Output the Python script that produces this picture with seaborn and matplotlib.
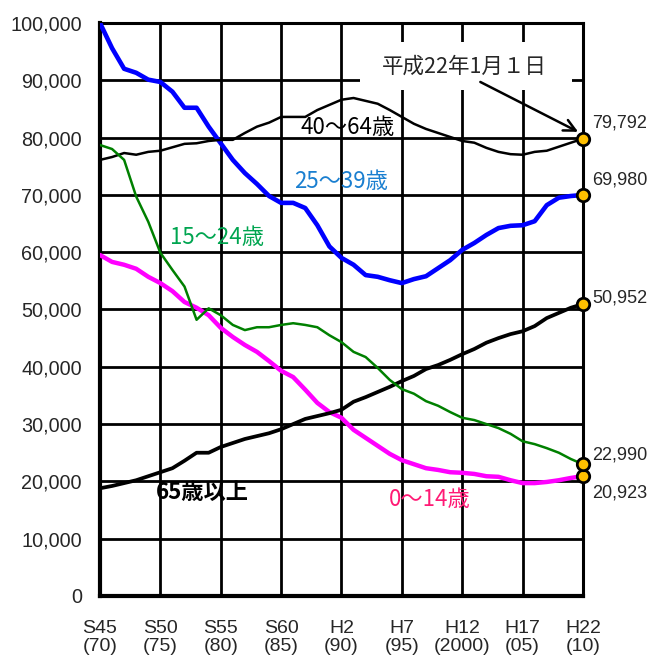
import matplotlib
matplotlib.use("Agg")
import matplotlib.pyplot as plt
from matplotlib.patches import Rectangle
import pandas as pd
import seaborn as sns

# ---- data (population by age group, each year 1970-2010) ----
years = list(range(1970, 2011))

age_0_14 = [59500, 58300, 57800, 57100, 55700, 54600, 53200, 51300, 50300, 49000,
            46800, 45200, 43800, 42600, 41000, 39300, 38200, 36000, 33700, 32100,
            31100, 29000, 27600, 26200, 24800, 23700, 23000, 22300, 22000, 21600,
            21500, 21300, 20900, 20800, 20200, 19700, 19700, 19900, 20200, 20600,
            20923]
age_15_24 = [78700, 78000, 76100, 69700, 65300, 59900, 56900, 54000, 48200, 50200,
             49000, 47300, 46400, 46900, 46900, 47300, 47600, 47300, 46900, 45500,
             44300, 42600, 41700, 39800, 37700, 36100, 35300, 34000, 33200, 32100,
             31100, 30700, 30000, 29300, 28300, 27000, 26500, 25800, 25000, 23900,
             22990]
age_25_39 = [100000, 95600, 92000, 91300, 90100, 89700, 88000, 85200, 85200, 81900,
             79000, 76100, 73800, 71900, 69800, 68600, 68600, 67700, 64700, 61000,
             59000, 57800, 56000, 55700, 55100, 54600, 55300, 55800, 57200, 58600,
             60400, 61600, 63000, 64200, 64600, 64700, 65400, 68200, 69500, 69800,
             69980]
age_40_64 = [76100, 76600, 77300, 77000, 77500, 77700, 78300, 78900, 79000, 79400,
             79600, 79600, 80800, 81900, 82600, 83600, 83600, 83600, 84800, 85700,
             86600, 86900, 86400, 85900, 84800, 83600, 82400, 81500, 80800, 80100,
             79400, 79100, 78200, 77500, 77100, 77000, 77500, 77700, 78400, 79100,
             79792]
age_65_over = [18800, 19200, 19700, 20200, 20900, 21600, 22300, 23600, 25000, 25000,
               26000, 26700, 27400, 27900, 28400, 29100, 30000, 30900, 31400, 31900,
               32500, 33900, 34700, 35600, 36500, 37500, 38400, 39600, 40300, 41200,
               42200, 43100, 44200, 45000, 45700, 46200, 47100, 48500, 49400, 50300,
               50952]

x_ticks = [1970, 1975, 1980, 1985, 1990, 1995, 2000, 2005, 2010]
x_tick_labels = ["S45\n(70)", "S50\n(75)", "S55\n(80)", "S60\n(85)", "H2\n(90)",
                 "H7\n(95)", "H12\n(2000)", "H17\n(05)", "H22\n(10)"]
y_ticks = list(range(0, 100001, 10000))

series_names = ["0～14歳", "15～24歳", "25～39歳", "40～64歳", "65歳以上"]
series_values = [age_0_14, age_15_24, age_25_39, age_40_64, age_65_over]

df = pd.DataFrame({
    "year": years * len(series_names),
    "group": [n for n in series_names for _ in years],
    "population": [v for vals in series_values for v in vals],
})

# ---- styling ----
sns.set_theme(style="white")
plt.rcParams["font.family"] = ["Liberation Sans", "Noto Sans CJK JP", "DejaVu Sans"]
jp = ["Noto Sans CJK JP", "DejaVu Sans"]

line_style = {
    "0～14歳":  dict(color="#FF00FF", lw=3.2, z=3),
    "15～24歳": dict(color="#008000", lw=1.8, z=4),
    "25～39歳": dict(color="#0000FF", lw=3.3, z=3),
    "40～64歳": dict(color="#000000", lw=1.8, z=3),
    "65歳以上": dict(color="#000000", lw=2.7, z=3),
}

fig = plt.figure(figsize=(6.5, 6.59), dpi=100)
ax = fig.add_axes([0.1538, 0.0956, 0.7431, 0.8696])

for name in series_names:
    st = line_style[name]
    sns.lineplot(data=df[df["group"] == name], x="year", y="population",
                 color=st["color"], linewidth=st["lw"], ax=ax, zorder=st["z"],
                 legend=False)

ax.set_xlim(1970, 2010)
ax.set_ylim(0, 100000)
ax.set_xticks(x_ticks)
ax.set_xticklabels(x_tick_labels, fontsize=14, linespacing=1.12)
ax.set_yticks(y_ticks)
ax.set_yticklabels([f"{v:,}" for v in y_ticks], fontsize=14.3)
ax.tick_params(axis="x", length=0, pad=17)
ax.tick_params(axis="y", length=0, pad=13)
ax.set_xlabel("")
ax.set_ylabel("")

ax.grid(True, color="black", linewidth=2.0)
ax.set_axisbelow(True)
for side, sp in ax.spines.items():
    sp.set_color("black")
    sp.set_linewidth(3.0 if side in ("left", "bottom") else 2.2)

# series labels
label_specs = [
    ("40～64歳", 1990.5, 81700, "#000000", "normal"),
    ("25～39歳", 1990.0, 72300, "#1A7FD0", "normal"),
    ("15～24歳", 1979.7, 62500, "#00A550", "normal"),
    ("65歳以上", 1978.5, 18100, "#000000", "bold"),
    ("0～14歳", 1997.3, 16800, "#FF1A75", "normal"),
]
for text, x, y, c, w in label_specs:
    ax.text(x, y, text, color=c, fontsize=16, fontweight=w, family=jp,
            ha="center", va="center", zorder=6)

# end-of-period markers and values
last_vals = [vals[-1] for vals in series_values]
sns.scatterplot(x=[years[-1]] * len(last_vals), y=last_vals, s=80,
                color="#FFC000", edgecolor="black", linewidth=2.0,
                ax=ax, zorder=7, clip_on=False, legend=False)
value_offsets = {"40～64歳": 11.5, "25～39歳": 11, "65歳以上": 4,
                 "15～24歳": 6.5, "0～14歳": -12}
for name, v in zip(series_names, last_vals):
    ax.annotate(f"{v:,}", xy=(years[-1], v), xytext=(6.5, value_offsets[name]),
                textcoords="offset points", ha="left", va="center",
                fontsize=13, annotation_clip=False)

# date callout
ax.add_patch(Rectangle((1991.5, 88300), 17.6, 8400, facecolor="white",
                       edgecolor="none", zorder=1.5))
ax.text(2000.2, 92300, "平成22年1月１日", family=jp, fontsize=15.5,
        ha="center", va="center", zorder=6)
ax.annotate("", xy=(2009.6, 81000), xytext=(2001.5, 89700),
            arrowprops=dict(arrowstyle="->,head_length=0.7,head_width=0.35",
                            color="black", lw=1.8, shrinkA=0, shrinkB=0),
            zorder=6)

fig.savefig("out.png", dpi=100)
